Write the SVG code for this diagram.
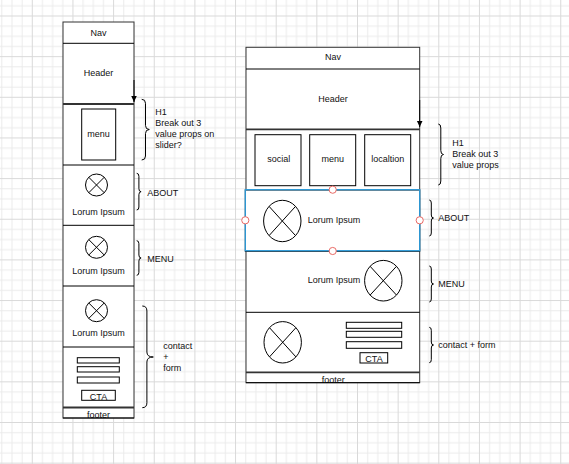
<svg xmlns="http://www.w3.org/2000/svg" width="569" height="464" viewBox="0 0 569 464">
<defs>
<pattern id="grid" patternUnits="userSpaceOnUse" x="31.8" y="15.5" width="40.65" height="40.65">
<path d="M10.66,0V40.65M20.82,0V40.65M30.99,0V40.65M0,10.66H40.65M0,20.82H40.65M0,30.99H40.65" stroke="#ebebeb" stroke-width="1" fill="none"/>
<path d="M0.5,0V40.65M0,0.5H40.65" stroke="#d9d9d9" stroke-width="1" fill="none"/>
</pattern>
<marker id="arr" markerUnits="userSpaceOnUse" markerWidth="8" markerHeight="8" refX="6.5" refY="3" orient="auto">
<path d="M0,0L6.5,3L0,6z" fill="#000"/>
</marker>
</defs>
<style>
.box{fill:#fff;stroke:#333;stroke-width:1}
.ln{stroke:#000;stroke-width:1;fill:none}
.thk{stroke:#333;stroke-width:1.8;fill:none}
.sb{fill:none;stroke:#000;stroke-width:1}
.br{fill:none;stroke:#000;stroke-width:1}
text{font-family:"Liberation Sans",Arial,sans-serif;font-size:9px;fill:#111}
.c{text-anchor:middle}
</style>
<rect width="569" height="464" fill="#fff"/>
<rect width="569" height="464" fill="url(#grid)"/>

<g id="left-wireframe">
<rect class="box" x="63" y="22" width="71" height="396"/>
<g id="left-nav"><text class="c" x="98.5" y="35.5">Nav</text><line class="ln" x1="63" y1="43.3" x2="134" y2="43.3"/></g>
<g id="left-header"><text class="c" x="98.5" y="75.5">Header</text><line class="thk" x1="63" y1="104" x2="134" y2="104"/></g>
<g id="left-hero"><rect class="sb" x="81.7" y="109" width="34" height="51"/><text class="c" x="98.5" y="136.5">menu</text><line class="ln" x1="63" y1="165" x2="134" y2="165"/></g>
<g id="left-about">
<circle class="sb" cx="96.5" cy="185" r="11"/><path class="ln" d="M88.7,177.2L104.3,192.8M104.3,177.2L88.7,192.8"/>
<text class="c" x="98.5" y="215">Lorum Ipsum</text><line class="ln" x1="63" y1="225.3" x2="134" y2="225.3"/></g>
<g id="left-menu">
<circle class="sb" cx="96.5" cy="247.3" r="11"/><path class="ln" d="M88.7,239.5L104.3,255.1M104.3,239.5L88.7,255.1"/>
<text class="c" x="98.5" y="274">Lorum Ipsum</text><line class="ln" x1="63" y1="286" x2="134" y2="286"/></g>
<g id="left-contact">
<circle class="sb" cx="96.5" cy="310.7" r="11"/><path class="ln" d="M88.7,302.9L104.3,318.5M104.3,302.9L88.7,318.5"/>
<text class="c" x="98.5" y="335.5">Lorum Ipsum</text><line class="ln" x1="63" y1="347" x2="134" y2="347"/></g>
<g id="left-form">
<rect class="sb" x="77.3" y="357.7" width="42" height="5.3"/>
<rect class="sb" x="77.3" y="366.7" width="42" height="5.3"/>
<rect class="sb" x="77.3" y="377" width="42" height="6"/>
<rect class="sb" x="81.7" y="390.3" width="33.6" height="10"/>
<text class="c" x="98.5" y="399.5">CTA</text>
<line class="thk" x1="63" y1="407.5" x2="134" y2="407.5"/></g>
<g id="left-footer"><text class="c" x="98.5" y="418">footer</text><line class="ln" x1="63" y1="418" x2="134" y2="418"/></g>
</g>

<g id="left-notes">
<g id="left-h1-note"><path class="br" d="M141.7,99.3Q145.5,99.3 145.5,103.3L145.5,125.5Q145.5,129.5 149.3,129.5Q145.5,129.5 145.5,133.5L145.5,156Q145.5,160 141.7,160"/>
<text x="155.3" y="115">H1</text><text x="155.3" y="126">Break out 3</text><text x="155.3" y="137">value props on</text><text x="155.3" y="148">slider?</text></g>
<g id="left-about-note"><path class="br" d="M136.7,173.3Q138.9,173.3 138.9,176.3L138.9,188.7Q138.9,191.7 141.1,191.7Q138.9,191.7 138.9,194.7L138.9,207Q138.9,210 136.7,210"/>
<text x="147.3" y="195.5">ABOUT</text></g>
<g id="left-menu-note"><path class="br" d="M136.7,240.7Q138.9,240.7 138.9,243.7L138.9,255Q138.9,258 141.1,258Q138.9,258 138.9,261L138.9,272.3Q138.9,275.3 136.7,275.3"/>
<text x="147.3" y="261.5">MENU</text></g>
<g id="left-contact-note"><path class="br" d="M142.3,306Q146.9,306 146.9,311L146.9,352Q146.9,357 153.3,357Q146.9,357 146.9,362L146.9,402.7Q146.9,407.7 142.3,407.7"/>
<text x="163.3" y="348.5">contact</text><text x="163.3" y="359.5">+</text><text x="163.3" y="370.5">form</text></g>
</g>

<g id="right-wireframe">
<rect class="box" x="246" y="47.3" width="173.7" height="335.4"/>
<g id="right-nav"><text class="c" x="333" y="60">Nav</text><line class="ln" x1="246" y1="69" x2="419.7" y2="69"/></g>
<g id="right-header"><text class="c" x="333" y="101.5">Header</text><line class="thk" x1="246" y1="129.3" x2="419.7" y2="129.3"/></g>
<g id="right-hero">
<rect class="sb" x="255" y="134.7" width="46" height="51"/><text class="c" x="278.7" y="162">social</text>
<rect class="sb" x="309.7" y="134.7" width="46" height="51"/><text class="c" x="332.7" y="162">menu</text>
<rect class="sb" x="364.7" y="134.7" width="46" height="51"/><text class="c" x="387.7" y="162">localtion</text>
</g>
<g id="right-about">
<rect x="245.3" y="190" width="174.4" height="61.3" fill="#fff" stroke="#000" stroke-width="1"/>
<ellipse class="sb" cx="282.3" cy="221" rx="18.7" ry="20.7"/><path class="ln" d="M269.1,206.4L295.5,235.6M295.5,206.4L269.1,235.6"/>
<text class="c" x="334" y="222.5">Lorum Ipsum</text>
<rect x="245.3" y="189.7" width="174.4" height="61" fill="none" stroke="#2d9cdb" stroke-width="1.3"/>
<g fill="#fff" stroke="#ea6b66" stroke-width="1">
<circle cx="332.7" cy="189.7" r="3.6"/><circle cx="245.3" cy="220.3" r="3.6"/><circle cx="419.7" cy="220.3" r="3.6"/><circle cx="332.7" cy="251" r="3.6"/>
</g>
</g>
<g id="right-menu">
<text class="c" x="334" y="283">Lorum Ipsum</text>
<ellipse class="sb" cx="383.3" cy="280.7" rx="18.7" ry="20.3"/><path class="ln" d="M370.1,266.3L396.5,295.1M396.5,266.3L370.1,295.1"/>
<line class="ln" x1="246" y1="312.3" x2="419.7" y2="312.3"/></g>
<g id="right-contact">
<ellipse class="sb" cx="282.7" cy="342.3" rx="18.7" ry="20.7"/><path class="ln" d="M269.5,327.7L295.9,356.9M295.9,327.7L269.5,356.9"/>
<rect class="sb" x="346.3" y="322.3" width="55.4" height="6"/>
<rect class="sb" x="346.3" y="331.3" width="55.4" height="6"/>
<rect class="sb" x="346.3" y="341.7" width="55.4" height="6.6"/>
<rect class="sb" x="360" y="352.7" width="27.7" height="10.3"/>
<text class="c" x="374" y="362">CTA</text>
<line class="thk" x1="246" y1="372.3" x2="419.7" y2="372.3"/></g>
<g id="right-footer"><text class="c" x="333.3" y="383">footer</text><line class="ln" x1="246" y1="382.7" x2="419.7" y2="382.7"/></g>
</g>

<g id="right-notes">
<g id="right-h1-note"><path class="br" d="M438.3,124Q440.8,124 440.8,128L440.8,150.5Q440.8,154.5 443.5,154.5Q440.8,154.5 440.8,158.5L440.8,181Q440.8,185 438.3,185"/>
<text x="452.3" y="146">H1</text><text x="452.3" y="157">Break out 3</text><text x="452.3" y="168">value props</text></g>
<g id="right-about-note"><path class="br" d="M429.3,200Q431.3,200 431.3,203L431.3,215Q431.3,218 433.5,218Q431.3,218 431.3,221L431.3,233Q431.3,236 429.3,236"/>
<text x="438.3" y="221">ABOUT</text></g>
<g id="right-menu-note"><path class="br" d="M429.3,266Q431.3,266 431.3,269L431.3,281Q431.3,284 433.5,284Q431.3,284 431.3,287L431.3,299Q431.3,302 429.3,302"/>
<text x="438.3" y="287">MENU</text></g>
<g id="right-contact-note"><path class="br" d="M429.3,327.3Q431.3,327.3 431.3,330.3L431.3,342Q431.3,345 433.5,345Q431.3,345 431.3,348L431.3,359.7Q431.3,362.7 429.3,362.7"/>
<text x="438.3" y="348">contact + form</text></g>
</g>

<g id="connectors">
<path d="M134,80L134,102" stroke="#000" stroke-width="1" fill="none" marker-end="url(#arr)"/>
<path d="M419.7,100L419.7,127" stroke="#000" stroke-width="1" fill="none" marker-end="url(#arr)"/>
</g>
</svg>
